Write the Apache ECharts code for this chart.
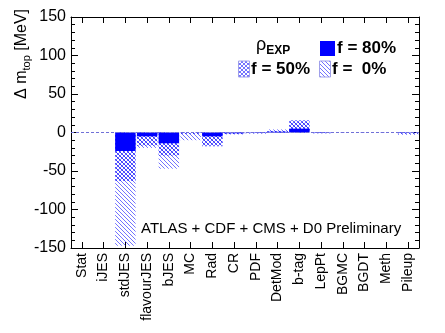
<!DOCTYPE html>
<html>
<head>
<meta charset="utf-8">
<script src="https://cdn.jsdelivr.net/npm/echarts@6/dist/echarts.min.js"></script>
<style>
html, body { margin: 0; padding: 0; background: #fff; }
#chart { width: 445px; height: 333px; }
</style>
</head>
<body>
<div id="chart"></div>
<script>
// categories (systematics)
var categories = ['Stat', 'iJES', 'stdJES', 'flavourJES', 'bJES', 'MC', 'Rad', 'CR', 'PDF',
	'DetMod', 'b-tag', 'LepPt', 'BGMC', 'BGDT', 'Meth', 'Pileup'];
// shift of m_top in MeV for each correlation assumption
var shiftF80 = [0, 0, -24, -5, -14, 0, -5, -1, -0.5, 1, 5, -0.5, 0, 0, 0, -0.5];
var shiftF50 = [0, 0, -63, -17, -30, -2, -18, -2, -1, 2, 16, -1, 0, 0, 0, -1.5];
var shiftF0 = [0, 0, -147, -20, -47, -10, -16, -2.5, -1.5, 4, 14, -1, -0.5, -0.5, -0.5, -3];
// y axis range
var yMin = -150, yMax = 150, yStep = 50;

var FONT = '"Liberation Sans", Arial, Helvetica, sans-serif';
var BLUE = '#0000ff';

// hatch pattern: single diagonal "\" or cross
function makeHatch(cross){
	var s = 4;
	var c = document.createElement('canvas');
	c.width = s; c.height = s;
	var ctx = c.getContext('2d');
	ctx.strokeStyle = 'rgba(0,0,255,0.55)';
	ctx.lineWidth = 1;
	ctx.beginPath();
	ctx.moveTo(-1, -1); ctx.lineTo(s + 1, s + 1);
	ctx.moveTo(-1, s - 1); ctx.lineTo(1, s + 1);
	ctx.moveTo(s - 1, -1); ctx.lineTo(s + 1, 1);
	if(cross){
		ctx.moveTo(s + 1, -1); ctx.lineTo(-1, s + 1);
		ctx.moveTo(1, -1); ctx.lineTo(-1, 1);
		ctx.moveTo(s + 1, s - 1); ctx.lineTo(s - 1, s + 1);
	}
	ctx.stroke();
	return {image: c, repeat: 'repeat'};
}
var diagFill = makeHatch(false);
var crossFill = makeHatch(true);

function barSeries(name, data, fill){
	return {
		name: name,
		type: 'bar',
		data: data,
		barGap: '-100%',
		barCategoryGap: '6%',
		itemStyle: { color: fill },
		silent: true,
		animation: false
	};
}

var series = [
	barSeries('f = 0%', shiftF0, diagFill),
	barSeries('f = 50%', shiftF50, crossFill),
	barSeries('f = 80%', shiftF80, BLUE)
];
// dotted zero line
series[0].markLine = {
	silent: true,
	symbol: 'none',
	label: { show: false },
	lineStyle: { color: '#7070d8', type: [3, 2], width: 1 },
	data: [{ yAxis: 0 }]
};

function yAxisDef(pos, showLabel){
	return {
		type: 'value',
		position: pos,
		min: yMin,
		max: yMax,
		interval: yStep,
		axisLine: { show: true, onZero: false, lineStyle: { color: '#000', width: 1 } },
		axisTick: { show: true, inside: true, length: 7, lineStyle: { color: '#000' } },
		minorTick: { show: true, splitNumber: 5, length: 4, lineStyle: { color: '#000' } },
		axisLabel: { show: showLabel, color: '#000', fontFamily: FONT, fontSize: 16, margin: 5 },
		splitLine: { show: false }
	};
}
function xAxisDef(pos, showLabel){
	return {
		type: 'category',
		position: pos,
		data: categories,
		axisLine: { show: true, onZero: false, lineStyle: { color: '#000', width: 1 } },
		axisTick: { show: true, inside: true, alignWithLabel: true, length: 6, lineStyle: { color: '#000' } },
		axisLabel: { show: showLabel, rotate: 90, interval: 0, color: '#000', fontFamily: FONT, fontSize: 14, margin: 5 },
		splitLine: { show: false }
	};
}

var option = {
	animation: false,
	backgroundColor: '#fff',
	grid: { left: 71, right: 26, top: 17, bottom: 85, containLabel: false },
	xAxis: [xAxisDef('bottom', true), xAxisDef('top', false)],
	yAxis: [yAxisDef('left', true), yAxisDef('right', false)],
	series: series,
	graphic: [
		// y axis title
		{
			type: 'text', x: 22, y: 9, rotation: Math.PI / 2,
			style: {
				text: '{a|Δ m}{s|top}{a| [MeV]}',
				align: 'right', verticalAlign: 'middle',
				fill: '#000',
				rich: {
					a: { fontFamily: FONT, fontSize: 16, fill: '#000', lineHeight: 19 },
					s: { fontFamily: FONT, fontSize: 11, fill: '#000', lineHeight: 19, padding: [9, 0, 0, 0] }
				}
			}
		},
		// legend
		{
			type: 'text', x: 256, y: 45,
			style: {
				text: '{r|ρ}{s|EXP}', verticalAlign: 'middle', fill: '#000',
				rich: {
					r: { fontFamily: FONT, fontSize: 18, fill: '#000', lineHeight: 22 },
					s: { fontFamily: FONT, fontSize: 12, fontWeight: 'bold', fill: '#000', lineHeight: 22, padding: [12, 0, 0, 0] }
				}
			}
		},
		{ type: 'rect', shape: { x: 320, y: 41, width: 15, height: 15 }, style: { fill: BLUE } },
		{ type: 'text', x: 337, y: 48, style: { text: 'f = 80%', font: 'bold 17px ' + FONT, fill: '#000', verticalAlign: 'middle' } },
		{ type: 'rect', shape: { x: 238.5, y: 61, width: 11, height: 16 }, style: { fill: crossFill, stroke: '#a0a0ea', lineWidth: 1 } },
		{ type: 'text', x: 251, y: 69, style: { text: 'f = 50%', font: 'bold 17px ' + FONT, fill: '#000', verticalAlign: 'middle' } },
		{ type: 'rect', shape: { x: 319.5, y: 61, width: 11, height: 16 }, style: { fill: diagFill, stroke: '#a0a0ea', lineWidth: 1 } },
		{ type: 'text', x: 332, y: 69, style: { text: 'f =  0%', font: 'bold 17px ' + FONT, fill: '#000', verticalAlign: 'middle' } },
		// experiment label
		{ type: 'text', x: 141, y: 229, style: { text: 'ATLAS + CDF + CMS + D0 Preliminary', font: '15px ' + FONT, fill: '#000', verticalAlign: 'middle' } }
	]
};

var myChart = echarts.init(document.getElementById('chart'), null, { renderer: 'canvas' });
myChart.setOption(option, true);
</script>
</body>
</html>
